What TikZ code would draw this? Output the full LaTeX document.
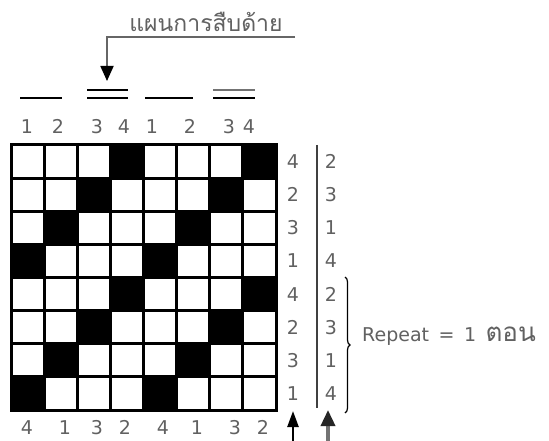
\documentclass[tikz,border=0pt]{standalone}
\usepackage{fontspec}
\setmainfont{DejaVu Sans}
\newfontfamily\thaifont[Script=Thai]{Loma}
\usetikzlibrary{arrows.meta,decorations.pathreplacing}
\begin{document}
\begin{tikzpicture}[x=1pt,y=-1pt,
  num/.style={font=\fontsize{19}{19}\selectfont, text=black!62, inner sep=0pt, text height=13.9pt, text depth=0pt},
  gridline/.style={draw=black, line width=3pt, line cap=rect},
  barline/.style={draw=black, line width=2.3pt},
]
\useasboundingbox[fill=white] (0,0) rectangle (549,441);
\def\cs{33.125}
% black cells
\foreach \r/\c in {1/4,1/8,2/3,2/7,3/2,3/6,4/1,4/5,5/4,5/8,6/3,6/7,7/2,7/6,8/1,8/5}{
  \fill[black] (11+\c*\cs-\cs,145+\r*\cs-\cs) rectangle (11+\c*\cs,145+\r*\cs);
}
% grid lines
\foreach \i in {0,...,8}{
  \draw[gridline] (11+\i*\cs,145) -- (11+\i*\cs,410);
  \draw[gridline] (11,145+\i*\cs) -- (276,145+\i*\cs);
}
% top numbers
\foreach \x/\t [count=\k] in {27/1,58/2,97/3,124/4,152/1,190/2,229/3,249/4}{
  \node[num] (top\k) at (\x,127) {\t};
}
% bars above the numbers
\draw[barline] (20,98) -- (62,98);
\draw[barline] (87,90) -- (128,90);
\draw[barline] (87,98) -- (128,98);
\draw[barline] (145,98) -- (193,98);
\draw[barline, draw=black!55] (213,90) -- (255,90);
\draw[barline] (213,98) -- (255,98);
% title with arrow
\node[font=\thaifont\fontsize{23}{23}\selectfont, text=black!62, inner sep=0pt] (title) at (206,22) {แผนการสืบด้าย};
\coordinate (tl) at (295,37);
\coordinate (tc) at (107,37);
\coordinate (tip) at (107,81);
\draw[black!60, line width=1.8pt, -{Triangle[black, length=15pt, width=13pt]}] (tl) -- (tc) -- (tip);
% right numbers
\foreach \t [count=\r] in {4,2,3,1,4,2,3,1}{
  \node[num] (ra\r) at (293,145+\r*\cs-\cs/2) {\t};
}
\foreach \t [count=\r] in {2,3,1,4,2,3,1,4}{
  \node[num] (rb\r) at (331,145+\r*\cs-\cs/2) {\t};
}
\draw[black!75, line width=2pt] (317,145) -- (317,408);
% brace
\draw[decorate, decoration={brace, amplitude=5pt}, line width=1.2pt] (345,277) -- (345,413);
\node[anchor=west, font=\fontsize{19}{19}\selectfont, text=black!62, inner sep=0pt] (rep) at (362,336) {Repeat\,\,\,=\,\,\,1\,\,\,{\thaifont\fontsize{26}{26}\selectfont ตอน}};
% bottom numbers
\foreach \x/\t [count=\k] in {27/4,65/1,97/3,125/2,163/4,197/1,235/3,263/2}{
  \node[num] (bot\k) at (\x,428) {\t};
}
% bottom arrows
\coordinate (a1s) at (293,441);
\coordinate (a1e) at (293,411);
\coordinate (a2s) at (328,441);
\coordinate (a2e) at (328,410);
\draw[black, line width=2.4pt, -{Triangle[length=16pt, width=11pt]}] (a1s) -- (a1e);
\draw[black!55, line width=3.5pt, -{Triangle[black!85, length=16pt, width=14pt]}] (a2s) -- (a2e);
\end{tikzpicture}
\end{document}
